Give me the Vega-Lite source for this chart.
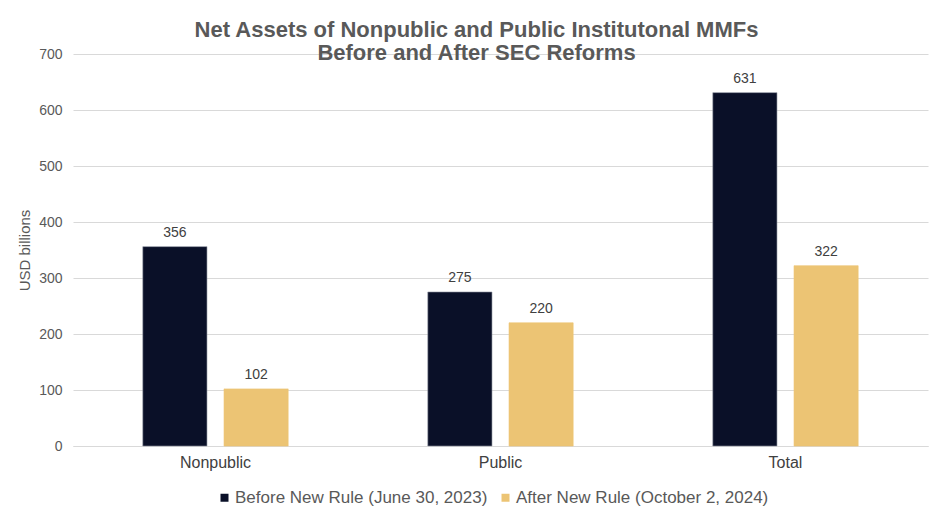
{
  "$schema": "https://vega.github.io/schema/vega-lite/v6.json",
  "autosize": "none",
  "width": 855,
  "height": 392,
  "padding": {"left": 73, "top": 54, "right": 12, "bottom": 84},
  "background": "white",
  "config": {
    "font": "Liberation Sans",
    "view": {"stroke": null}
  },
  "title": {
    "text": ["Net Assets of Nonpublic and Public Institutonal MMFs", "Before and After SEC Reforms"],
    "fontSize": 22,
    "fontWeight": "bold",
    "color": "#595959",
    "anchor": "middle",
    "dx": -24,
    "offset": -18,
    "lineHeight": 23
  },
  "data": {
    "values": [
      {"category": "Nonpublic", "period": "Before New Rule (June 30, 2023)", "value": 356},
      {"category": "Nonpublic", "period": "After New Rule (October 2, 2024)", "value": 102},
      {"category": "Public", "period": "Before New Rule (June 30, 2023)", "value": 275},
      {"category": "Public", "period": "After New Rule (October 2, 2024)", "value": 220},
      {"category": "Total", "period": "Before New Rule (June 30, 2023)", "value": 631},
      {"category": "Total", "period": "After New Rule (October 2, 2024)", "value": 322}
    ]
  },
  "encoding": {
    "x": {
      "field": "category",
      "type": "nominal",
      "sort": ["Nonpublic", "Public", "Total"],
      "scale": {"paddingInner": 0.49, "paddingOuter": 0.245},
      "axis": {
        "title": null,
        "labelAngle": 0,
        "labelFontSize": 16,
        "labelColor": "#404040",
        "labelPadding": 8,
        "ticks": false,
        "domain": true,
        "domainColor": "#d9d9d9"
      }
    },
    "xOffset": {
      "field": "period",
      "type": "nominal",
      "sort": ["Before New Rule (June 30, 2023)", "After New Rule (October 2, 2024)"],
      "scale": {"paddingInner": 0.21}
    },
    "y": {
      "field": "value",
      "type": "quantitative",
      "scale": {"domain": [0, 700]},
      "axis": {
        "title": "USD billions",
        "titleFontSize": 15,
        "titleFontWeight": "normal",
        "titleColor": "#595959",
        "titlePadding": 6,
        "values": [0, 100, 200, 300, 400, 500, 600, 700],
        "labelFontSize": 14,
        "labelColor": "#595959",
        "labelPadding": 11,
        "ticks": false,
        "domain": false,
        "gridColor": "#d9d9d9",
        "gridWidth": 1
      }
    }
  },
  "layer": [
    {
      "mark": {"type": "bar", "strokeWidth": 0.6},
      "encoding": {
        "color": {
          "field": "period",
          "type": "nominal",
          "sort": ["Before New Rule (June 30, 2023)", "After New Rule (October 2, 2024)"],
          "scale": {
            "domain": ["Before New Rule (June 30, 2023)", "After New Rule (October 2, 2024)"],
            "range": ["#0a1028", "#ecc474"]
          },
          "legend": {
            "title": null,
            "orient": "none",
            "legendX": 143,
            "legendY": 435,
            "direction": "horizontal",
            "symbolType": "square",
            "symbolSize": 64,
            "symbolStrokeWidth": 0,
            "labelFontSize": 17,
            "labelColor": "#595959",
            "labelOffset": 2,
            "labelLimit": 400,
            "columnPadding": 9
          }
        },
        "stroke": {
          "field": "period",
          "type": "nominal",
          "scale": {
            "domain": ["Before New Rule (June 30, 2023)", "After New Rule (October 2, 2024)"],
            "range": ["#8a8f9c", "#ecc474"]
          },
          "legend": null
        }
      }
    },
    {
      "mark": {"type": "text", "dy": -7, "fontSize": 14, "color": "#404040", "baseline": "bottom"},
      "encoding": {
        "text": {"field": "value", "type": "quantitative"}
      }
    }
  ]
}
